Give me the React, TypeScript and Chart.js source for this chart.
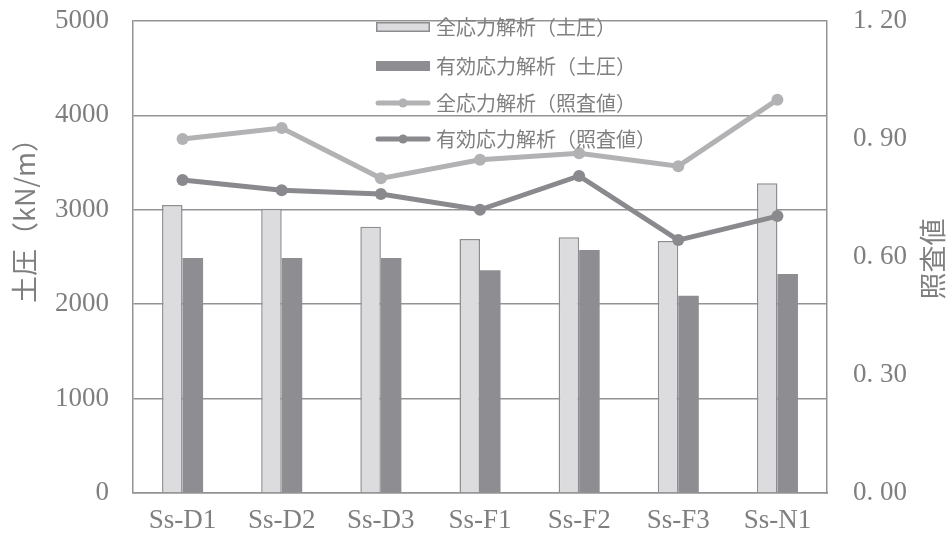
import React, { useEffect, useRef } from "react";
import { Chart, registerables } from "chart.js";

Chart.register(...registerables);

const categories = ["Ss-D1", "Ss-D2", "Ss-D3", "Ss-F1", "Ss-F2", "Ss-F3", "Ss-N1"];
const totalEarthPressure = [3050, 3010, 2820, 2690, 2710, 2670, 3280];
const effectiveEarthPressure = [2490, 2490, 2490, 2360, 2575, 2090, 2320];
const totalRatio = [0.9, 0.928, 0.8, 0.847, 0.864, 0.831, 1.0];
const effectiveRatio = [0.796, 0.77, 0.76, 0.72, 0.806, 0.643, 0.704];
const seriesLabels = [
  "全応力解析（土圧）",
  "有効応力解析（土圧）",
  "全応力解析（照査値）",
  "有効応力解析（照査値）",
];
const leftTitle = "土圧（kN/m）";
const rightTitle = "照査値";

const TEXT = "#7f7f7f";
const GRID = "#939393";
const LIGHT_BAR = "#dcdcde";
const BAR_EDGE = "#8d8d91";
const DARK_BAR = "#8e8e92";
const LIGHT_LINE = "#b2b2b5";
const DARK_LINE = "#8a8a8e";
const SERIF = "'Liberation Serif', serif";
const CJK = "'Noto Sans CJK JP', sans-serif";

const overlayPlugin = {
  id: "overlay",
  afterDatasetsDraw(chart: any) {
    const ctx = chart.ctx;
    ctx.save();
    const symX0 = 376;
    const symX1 = 430;
    const textX = 436;
    const rows = [27, 66, 103, 139];
    ctx.font = `20px ${CJK}`;
    ctx.textBaseline = "middle";
    ctx.textAlign = "left";
    chart.data.datasets.forEach((ds: any, i: number) => {
      const y = rows[i];
      if (ds.type === "bar") {
        ctx.fillStyle = ds.backgroundColor;
        ctx.fillRect(symX0, y - 5, symX1 - symX0, 10);
        if (ds.borderWidth) {
          ctx.strokeStyle = ds.borderColor;
          ctx.lineWidth = 1.5;
          ctx.strokeRect(symX0 + 0.75, y - 5 + 0.75, symX1 - symX0 - 1.5, 8.5);
        }
      } else {
        ctx.strokeStyle = ds.borderColor;
        ctx.lineWidth = 5;
        ctx.lineCap = "round";
        ctx.beginPath();
        ctx.moveTo(symX0 + 2, y);
        ctx.lineTo(symX1 - 2, y);
        ctx.stroke();
        ctx.fillStyle = ds.borderColor;
        ctx.beginPath();
        ctx.arc((symX0 + symX1) / 2, y, 4.5, 0, Math.PI * 2);
        ctx.fill();
      }
      ctx.fillStyle = TEXT;
      ctx.fillText(ds.label, textX, y);
    });
    ctx.font = `27px ${CJK}`;
    ctx.fillStyle = TEXT;
    ctx.textAlign = "center";
    ctx.textBaseline = "middle";
    ctx.save();
    ctx.translate(25, 214);
    ctx.rotate(-Math.PI / 2);
    ctx.fillText(leftTitle, 0, 0);
    ctx.restore();
    ctx.save();
    ctx.translate(933, 259);
    ctx.rotate(-Math.PI / 2);
    ctx.fillText(rightTitle, 0, 0);
    ctx.restore();
    ctx.restore();
  },
};

export default function App() {
  const canvasRef = useRef<HTMLCanvasElement | null>(null);

  useEffect(() => {
    if (!canvasRef.current) return;
    const chart = new Chart(canvasRef.current, {
      type: "bar",
      data: {
        labels: categories,
        datasets: [
          {
            type: "bar",
            label: seriesLabels[0],
            data: totalEarthPressure,
            backgroundColor: LIGHT_BAR,
            borderColor: BAR_EDGE,
            borderWidth: 1.5,
            yAxisID: "y",
            order: 2,
            categoryPercentage: 0.414,
            barPercentage: 1,
          } as any,
          {
            type: "bar",
            label: seriesLabels[1],
            data: effectiveEarthPressure,
            backgroundColor: DARK_BAR,
            borderWidth: 0,
            yAxisID: "y",
            order: 2,
            categoryPercentage: 0.414,
            barPercentage: 1,
          } as any,
          {
            type: "line",
            label: seriesLabels[2],
            data: totalRatio,
            borderColor: LIGHT_LINE,
            backgroundColor: LIGHT_LINE,
            borderWidth: 5,
            pointRadius: 6,
            pointBackgroundColor: LIGHT_LINE,
            pointBorderWidth: 0,
            yAxisID: "y2",
            order: 1,
            tension: 0,
          } as any,
          {
            type: "line",
            label: seriesLabels[3],
            data: effectiveRatio,
            borderColor: DARK_LINE,
            backgroundColor: DARK_LINE,
            borderWidth: 5,
            pointRadius: 6,
            pointBackgroundColor: DARK_LINE,
            pointBorderWidth: 0,
            yAxisID: "y2",
            order: 1,
            tension: 0,
          } as any,
        ],
      },
      options: {
        animation: false,
        responsive: true,
        maintainAspectRatio: false,
        layout: { padding: { top: 21, left: 0, right: 0, bottom: 0 } },
        plugins: {
          legend: { display: false },
          tooltip: { enabled: false },
          title: { display: false },
        },
        scales: {
          x: {
            grid: { display: false, drawTicks: false },
            border: { display: true, color: GRID, width: 1.5 },
            ticks: {
              color: TEXT,
              font: { family: SERIF, size: 27 },
              padding: 12,
              maxRotation: 0,
              autoSkip: false,
            },
            afterFit: (s: any) => {
              s.height = 52;
              s.paddingLeft = 0;
              s.paddingRight = 0;
            },
          },
          y: {
            position: "left",
            min: 0,
            max: 5000,
            ticks: {
              stepSize: 1000,
              color: TEXT,
              font: { family: SERIF, size: 27 },
              padding: 24,
              callback: (v: any) => String(Math.round(Number(v))),
            },
            grid: { color: GRID, lineWidth: 1.5, drawTicks: false },
            border: { display: true, color: GRID, width: 1.5 },
            afterFit: (s: any) => {
              s.width = 133;
              s.paddingTop = 0;
              s.paddingBottom = 0;
            },
          },
          y2: {
            position: "right",
            min: 0,
            max: 1.2,
            ticks: {
              stepSize: 0.3,
              color: TEXT,
              font: { family: SERIF, size: 27 },
              padding: 26,
              callback: (v: any) => Number(v).toFixed(2).replace(".", ". "),
            },
            grid: { display: false, drawTicks: false },
            border: { display: true, color: GRID, width: 1.5 },
            afterFit: (s: any) => {
              s.width = 125;
              s.paddingTop = 0;
              s.paddingBottom = 0;
            },
          },
        },
      },
      plugins: [overlayPlugin],
    } as any);
    return () => chart.destroy();
  }, []);

  return (
    <div
      style={{
        position: "fixed",
        left: 0,
        top: 0,
        width: 952,
        height: 545,
        background: "#ffffff",
      }}
    >
      <canvas ref={canvasRef} />
    </div>
  );
}
